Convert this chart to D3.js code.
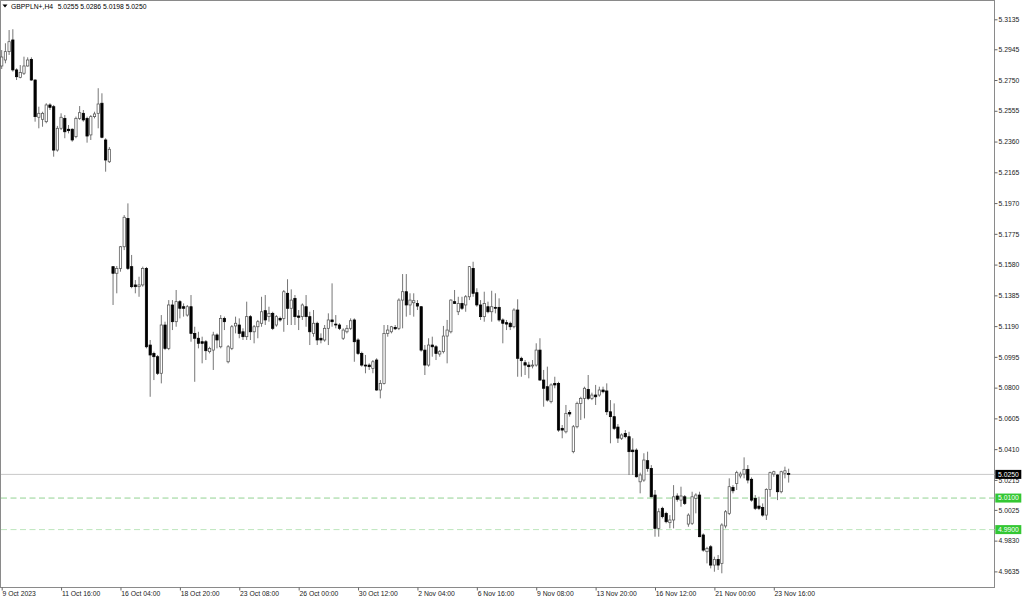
<!DOCTYPE html>
<html><head><meta charset="utf-8">
<script src="https://cdn.jsdelivr.net/npm/d3@7"></script>
<style>
body{margin:0;background:#fff;}
svg{display:block;}
text{font-family:"Liberation Sans",Arial,sans-serif;}
</style>
</head><body>
<svg id="chart" width="1024" height="600"></svg>
<script>
const symbol = "GBPPLN+,H4";

const opens = [
5.2839,5.2877,5.2930,5.3004,5.2814,5.2767,5.2793,5.2839,5.2881,5.2750,
5.2514,5.2501,5.2486,5.2592,5.2581,5.2306,5.2444,5.2507,5.2438,5.2438,
5.2391,5.2507,5.2539,5.2507,5.2402,5.2518,5.2539,5.2603,5.2370,5.2232,
5.1567,5.1525,5.1556,5.1693,5.1873,5.1567,5.1451,5.1440,5.1451,5.1556,
5.1070,5.1017,5.0996,5.0891,5.1197,5.1049,5.1324,5.1218,5.1345,5.1313,
5.1260,5.1313,5.1144,5.1113,5.1091,5.1091,5.1028,5.1038,5.1134,5.1059,
5.1239,5.0964,5.1049,5.1191,5.1197,5.1154,5.1123,5.1250,5.1154,5.1186,
5.1208,5.1288,5.1250,5.1271,5.1197,5.1239,5.1239,5.1398,5.1303,5.1366,
5.1254,5.1250,5.1313,5.1250,5.1144,5.1208,5.1113,5.1102,5.1176,5.1229,
5.1203,5.1197,5.1113,5.1154,5.1176,5.1229,5.1102,5.1017,5.0943,5.0943,
5.0922,5.0975,5.0785,5.0827,5.1144,5.1154,5.1182,5.1176,5.1355,5.1408,
5.1324,5.1338,5.1334,5.1313,5.1038,5.0943,5.1070,5.1059,5.1013,5.1028,
5.1127,5.1154,5.1345,5.1281,5.1334,5.1324,5.1376,5.1556,5.1402,5.1324,
5.1250,5.1313,5.1281,5.1309,5.1309,5.1229,5.1212,5.1208,5.1186,5.1292,
5.0986,5.0958,5.0943,5.0937,5.0943,5.1038,5.0848,5.0806,5.0711,5.0827,
5.0827,5.0542,5.0520,5.0643,5.0394,5.0552,5.0700,5.0732,5.0789,5.0732,
5.0753,5.0753,5.0785,5.0779,5.0647,5.0616,5.0550,5.0479,5.0510,5.0489,
5.0404,5.0404,5.0203,5.0214,5.0337,5.0288,5.0119,4.9908,5.0035,5.0003,
4.9944,4.9961,5.0113,5.0087,5.0108,4.9935,4.9940,5.0098,5.0119,4.9866,
4.9760,4.9791,4.9675,4.9711,4.9686,4.9923,5.0003,5.0168,5.0193,5.0240,
5.0252,5.0282,5.0219,5.0098,5.0049,5.0041,4.9992,5.0155,5.0252,5.0246,
5.0140,5.0257,5.0255];

const highs = [
5.2940,5.2983,5.3067,5.3072,5.2824,5.2845,5.2898,5.2894,5.2894,5.2755,
5.2581,5.2549,5.2603,5.2603,5.2592,5.2459,5.2539,5.2528,5.2465,5.2444,
5.2518,5.2585,5.2560,5.2518,5.2528,5.2549,5.2698,5.2666,5.2381,5.2325,
5.1567,5.1571,5.1698,5.1894,5.1968,5.1641,5.1482,5.1503,5.1567,5.1565,
5.1102,5.1028,5.1007,5.1260,5.1218,5.1355,5.1355,5.1419,5.1355,5.1334,
5.1324,5.1387,5.1186,5.1154,5.1123,5.1102,5.1059,5.1154,5.1144,5.1260,
5.1250,5.1070,5.1197,5.1250,5.1239,5.1176,5.1345,5.1260,5.1197,5.1229,
5.1376,5.1387,5.1313,5.1281,5.1260,5.1250,5.1419,5.1487,5.1423,5.1387,
5.1292,5.1334,5.1387,5.1281,5.1292,5.1218,5.1144,5.1197,5.1271,5.1461,
5.1260,5.1208,5.1176,5.1197,5.1239,5.1239,5.1113,5.1028,5.1007,5.0954,
5.0975,5.0986,5.0848,5.1197,5.1197,5.1191,5.1197,5.1366,5.1520,5.1520,
5.1398,5.1398,5.1355,5.1317,5.1070,5.1113,5.1123,5.1070,5.1038,5.1191,
5.1229,5.1360,5.1419,5.1376,5.1376,5.1387,5.1571,5.1598,5.1430,5.1355,
5.1408,5.1345,5.1414,5.1398,5.1366,5.1239,5.1229,5.1218,5.1303,5.1360,
5.0996,5.0975,5.0964,5.0975,5.1081,5.1113,5.0912,5.0933,5.0827,5.0869,
5.0837,5.0563,5.0690,5.0658,5.0563,5.0711,5.0742,5.0806,5.0880,5.0768,
5.0817,5.0806,5.0806,5.0827,5.0721,5.0700,5.0569,5.0510,5.0531,5.0520,
5.0479,5.0415,5.0261,5.0384,5.0394,5.0309,5.0151,5.0035,5.0045,5.0013,
4.9992,5.0182,5.0130,5.0172,5.0119,5.0003,5.0140,5.0130,5.0140,4.9876,
4.9791,4.9802,4.9728,4.9739,4.9940,5.0024,5.0225,5.0182,5.0273,5.0267,
5.0358,5.0309,5.0231,5.0119,5.0108,5.0066,5.0162,5.0267,5.0273,5.0252,
5.0273,5.0299,5.0286];

const lows = [
5.2820,5.2856,5.2909,5.2803,5.2750,5.2761,5.2782,5.2835,5.2746,5.2486,
5.2444,5.2454,5.2476,5.2560,5.2264,5.2296,5.2433,5.2381,5.2412,5.2359,
5.2381,5.2497,5.2486,5.2353,5.2370,5.2507,5.2444,5.2381,5.2169,5.2224,
5.1324,5.1398,5.1535,5.1672,5.1546,5.1430,5.1398,5.1376,5.1440,5.1049,
5.0742,5.0848,5.0880,5.0827,5.1038,5.1038,5.1165,5.1186,5.1239,5.1250,
5.1250,5.1091,5.0837,5.1049,5.0954,5.0975,5.1017,5.0912,5.1049,5.1049,
5.1165,5.0954,5.1038,5.1144,5.1113,5.1102,5.1102,5.1102,5.1081,5.1113,
5.1186,5.1197,5.1218,5.1165,5.1186,5.1218,5.1154,5.1197,5.1197,5.1197,
5.1165,5.1229,5.1186,5.1070,5.1123,5.1070,5.1081,5.1091,5.1070,5.1186,
5.1176,5.1165,5.1102,5.1144,5.1165,5.0964,5.1007,5.0933,5.0891,5.0912,
5.0891,5.0780,5.0732,5.0820,5.1123,5.1144,5.1165,5.1165,5.1176,5.1250,
5.1260,5.1250,5.1292,5.1028,5.0880,5.0933,5.0996,5.0975,5.0996,5.1017,
5.0954,5.1144,5.1330,5.1260,5.1292,5.1281,5.1355,5.1376,5.1313,5.1229,
5.1218,5.1271,5.1218,5.1271,5.1218,5.1081,5.1165,5.1165,5.1176,5.0869,
5.0869,5.0880,5.0859,5.0922,5.0933,5.0845,5.0679,5.0711,5.0700,5.0796,
5.0520,5.0479,5.0510,5.0616,5.0384,5.0542,5.0595,5.0605,5.0721,5.0721,
5.0690,5.0742,5.0764,5.0626,5.0447,5.0531,5.0449,5.0468,5.0479,5.0246,
5.0246,5.0230,5.0130,5.0203,5.0267,5.0105,4.9855,4.9855,4.9971,4.9940,
4.9908,4.9908,5.0077,5.0045,5.0056,4.9918,4.9929,5.0003,4.9852,4.9760,
4.9686,4.9654,4.9633,4.9644,4.9623,4.9908,4.9992,5.0130,5.0151,5.0225,
5.0225,5.0193,5.0077,5.0024,5.0024,4.9982,4.9961,5.0108,5.0235,5.0087,
5.0130,5.0225,5.0198];

const closes = [
5.2896,5.2930,5.2993,5.2814,5.2771,5.2797,5.2839,5.2877,5.2750,5.2518,
5.2539,5.2539,5.2592,5.2577,5.2306,5.2444,5.2514,5.2422,5.2429,5.2370,
5.2507,5.2543,5.2497,5.2395,5.2518,5.2535,5.2598,5.2387,5.2243,5.2311,
5.1525,5.1556,5.1693,5.1880,5.1556,5.1440,5.1440,5.1451,5.1556,5.1059,
5.1007,5.0996,5.0891,5.1197,5.1049,5.1324,5.1218,5.1345,5.1303,5.1303,
5.1313,5.1144,5.1113,5.1081,5.1081,5.1034,5.1049,5.1134,5.1102,5.1239,
5.1218,5.1059,5.1186,5.1208,5.1144,5.1123,5.1250,5.1154,5.1186,5.1218,
5.1281,5.1229,5.1271,5.1176,5.1250,5.1229,5.1408,5.1303,5.1355,5.1250,
5.1246,5.1324,5.1250,5.1154,5.1208,5.1102,5.1102,5.1176,5.1229,5.1218,
5.1197,5.1176,5.1165,5.1176,5.1224,5.1091,5.1017,5.0943,5.0937,5.0933,
5.0964,5.0785,5.0827,5.1144,5.1165,5.1186,5.1173,5.1355,5.1408,5.1324,
5.1355,5.1351,5.1317,5.1038,5.0943,5.1070,5.1059,5.1017,5.1028,5.1127,
5.1165,5.1355,5.1334,5.1334,5.1303,5.1376,5.1567,5.1398,5.1324,5.1250,
5.1334,5.1281,5.1313,5.1303,5.1229,5.1208,5.1203,5.1186,5.1292,5.0986,
5.0971,5.0943,5.0933,5.0943,5.1038,5.0848,5.0796,5.0721,5.0817,5.0817,
5.0531,5.0531,5.0637,5.0633,5.0552,5.0700,5.0732,5.0796,5.0732,5.0753,
5.0742,5.0785,5.0774,5.0647,5.0616,5.0542,5.0480,5.0500,5.0489,5.0394,
5.0394,5.0235,5.0246,5.0341,5.0288,5.0108,4.9908,5.0013,4.9982,4.9950,
4.9961,5.0108,5.0092,5.0113,5.0066,4.9992,5.0108,5.0119,4.9855,4.9770,
4.9781,4.9675,4.9711,4.9675,4.9929,5.0013,5.0172,5.0146,5.0261,5.0252,
5.0282,5.0214,5.0087,5.0035,5.0035,4.9992,5.0155,5.0261,5.0267,5.0140,
5.0267,5.0273,5.0250];

const priceTicks = [5.3135,5.2945,5.2750,5.2555,5.2360,5.2165,5.1970,5.1775,5.1580,5.1385,
                    5.1190,5.0995,5.0800,5.0605,5.0410,5.0215,5.0025,4.9830,4.9635];

const timeLabels = ["9 Oct 2023","11 Oct 16:00","16 Oct 04:00","18 Oct 20:00","23 Oct 08:00",
                    "26 Oct 00:00","30 Oct 12:00","2 Nov 04:00","6 Nov 16:00","9 Nov 08:00",
                    "13 Nov 20:00","16 Nov 12:00","21 Nov 00:00","23 Nov 16:00"];
const timeLabelBars = [0,16,32,48,64,80,96,112,128,144,160,176,192,208];

const bidPrice = 5.0250;
const levelPrices = [5.0100, 4.9900];
const levelColors = ["#92d292", "#bde6bd"];

// ---------- layout ----------
const plotRight = 994.5, plotBottom = 587.5;
const svg = d3.select("#chart");
const fmt = d3.format(".4f");

const n = opens.length;
const bars = d3.range(n).map(i => ({i, o: opens[i], h: highs[i], l: lows[i], c: closes[i]}));

const x = d3.scaleLinear().domain([0, n - 1]).range([1.7, 1.7 + 3.712 * (n - 1)]);
const y = d3.scaleLinear().domain([4.9635, 5.3135]).range([571.4, 19.3]);

// frame
svg.append("rect").attr("x", 0.5).attr("y", 0.5)
  .attr("width", plotRight - 0.5).attr("height", plotBottom - 0.5)
  .attr("fill", "none").attr("stroke", "#8a8a8a").attr("stroke-width", 1);

// bid line
svg.append("line").attr("x1", 1).attr("x2", plotRight)
  .attr("y1", y(bidPrice)).attr("y2", y(bidPrice))
  .attr("stroke", "#c8c8c8").attr("stroke-width", 1);

// level lines
svg.selectAll("line.level").data(levelPrices).join("line").attr("class", "level")
  .attr("x1", 1).attr("x2", plotRight)
  .attr("y1", d => y(d)).attr("y2", d => y(d))
  .attr("stroke", (d, i) => levelColors[i]).attr("stroke-width", 1)
  .attr("stroke-dasharray", "6,3.5");

// candles
const g = svg.append("g");
g.selectAll("line.wick").data(bars).join("line").attr("class", "wick")
  .attr("x1", d => x(d.i)).attr("x2", d => x(d.i))
  .attr("y1", d => y(d.h)).attr("y2", d => y(d.l))
  .attr("stroke", "#666").attr("stroke-width", 0.9);

g.selectAll("rect.body").data(bars).join("rect").attr("class", "body")
  .attr("x", d => x(d.i) - 1.15)
  .attr("width", 2.3)
  .attr("y", d => y(Math.max(d.o, d.c)))
  .attr("height", d => Math.max(Math.abs(y(d.o) - y(d.c)), 0.6))
  .attr("fill", d => d.c >= d.o ? "#fff" : "#000")
  .attr("stroke", d => d.c >= d.o ? "#555" : "#000").attr("stroke-width", 0.75);

// price axis
const yAxis = d3.axisRight(y).tickValues(priceTicks).tickFormat(fmt).tickSize(3).tickPadding(1);
const ya = svg.append("g").attr("transform", `translate(${plotRight},0)`).call(yAxis);
ya.select(".domain").remove();
ya.selectAll(".tick line").attr("stroke", "#666");
ya.selectAll(".tick text").attr("font-size", "6.8px").attr("fill", "#222")
  .attr("font-family", "Liberation Sans, Arial, sans-serif");

// time axis
const xAxis = d3.axisBottom(x).tickValues(timeLabelBars)
  .tickFormat((d, i) => timeLabels[i]).tickSize(3).tickPadding(1);
const xa = svg.append("g").attr("transform", `translate(0,${plotBottom})`).call(xAxis);
xa.select(".domain").remove();
xa.selectAll(".tick line").attr("stroke", "#666");
xa.selectAll(".tick text").attr("font-size", "6.8px").attr("fill", "#222")
  .attr("text-anchor", "start").attr("x", 0.3)
  .attr("font-family", "Liberation Sans, Arial, sans-serif");

// price labels (boxes)
function priceBox(price, bg) {
  const cy = y(price);
  svg.append("rect").attr("x", plotRight + 0.8).attr("y", cy - 4.5)
    .attr("width", 26).attr("height", 9).attr("fill", bg);
  svg.append("text").attr("x", plotRight + 3.5).attr("y", cy)
    .attr("dy", "0.35em").attr("font-size", "6.8px").attr("fill", "#fff")
    .text(fmt(price));
}
levelPrices.forEach(p => priceBox(p, "#33c733"));
priceBox(bidPrice, "#000");

// header
svg.append("path").attr("d", "M2.5,4.5 L7.5,4.5 L5,7.5 Z").attr("fill", "#000");
const last = bars[n - 1];
const symText = svg.append("text").attr("x", 11).attr("y", 8.6)
  .attr("font-size", "6.8px").attr("fill", "#000").text(symbol);
const symEnd = 11 + symText.node().getComputedTextLength();
svg.append("text").attr("x", symEnd + 4.5).attr("y", 8.6)
  .attr("font-size", "6.8px").attr("fill", "#000")
  .text([last.o, last.h, last.l, last.c].map(fmt).join(" "));
</script>
</body></html>
